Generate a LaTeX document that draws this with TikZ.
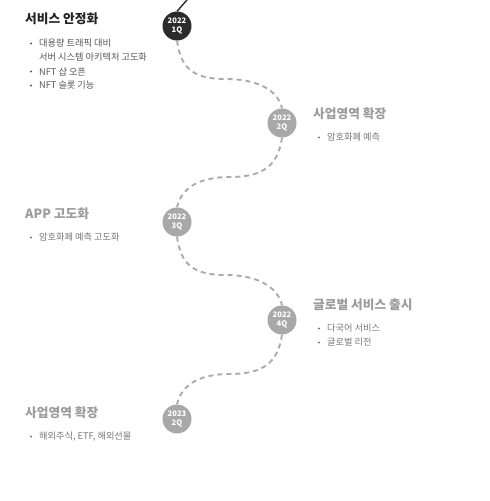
\documentclass[tikz,border=0pt]{standalone}
\usepackage{fontspec}
\setmainfont{Noto Sans CJK KR}
\usepackage{xcolor}
\usetikzlibrary{positioning}

\definecolor{darkdot}{HTML}{2B2B2B}
\definecolor{graydot}{HTML}{A8A8A8}
\definecolor{pathgray}{HTML}{ABABAB}
\definecolor{headdark}{HTML}{222222}
\definecolor{headgray}{HTML}{9C9C9C}
\definecolor{textdark}{HTML}{555555}
\definecolor{textgray}{HTML}{777777}

\begin{document}
\begin{tikzpicture}[
    x=1pt, y=-1pt,
    milestone/.style={circle, fill=#1, minimum size=29pt, inner sep=0pt, align=center, text=white, font=\fontsize{7.6}{8.4}\selectfont\bfseries},
    heading/.style={anchor=west, inner sep=0pt, text=#1, font=\fontsize{12.7}{14}\selectfont\bfseries},
    entry/.style={anchor=west, inner sep=0pt, text=#1, font=\fontsize{9.2}{10}\selectfont},
    bullet/.style={circle, fill=#1, inner sep=0pt, minimum size=2.2pt},
    route/.style={dash pattern=on 5pt off 4pt, line width=1.9pt, pathgray},
]
\useasboundingbox (0,0) rectangle (490,501);

% milestones
\node[milestone=darkdot] (q1) at (177, 26) {2022\\1Q};
\node[milestone=graydot] (q2) at (282, 123) {2022\\2Q};
\node[milestone=graydot] (q3) at (177, 222) {2022\\3Q};
\node[milestone=graydot] (q4) at (282, 320) {2022\\4Q};
\node[milestone=graydot] (q5) at (177, 419) {2023\\2Q};

% path
\coordinate (start) at (187, 0);
\draw[line width=1.4pt, darkdot] (q1.north) .. controls (182,6) .. (start);
\draw[route] (q1.south) .. controls (181,70) and (195,79) .. (226,79) .. controls (257,79) and (278,90) .. (q2.north);
\draw[route] (q2.south) .. controls (278,165) and (264,177) .. (230,177) .. controls (196,177) and (181,190) .. (q3.north);
\draw[route] (q3.south) .. controls (181,266) and (195,275) .. (226,275) .. controls (257,275) and (278,287) .. (q4.north);
\draw[route] (q4.south) .. controls (278,362) and (264,374) .. (230,374) .. controls (196,374) and (181,387) .. (q5.north);

% 2022 1Q
\node[heading=headdark] (h1) at (25, 18.5) {서비스 안정화};
\node[entry=textdark] (t1a) at (39, 43.5) {대용량 트래픽 대비};
\node[entry=textdark] (t1b) at (39, 57.5) {서버 시스템 아키텍처 고도화};
\node[entry=textdark] (t1c) at (39, 71.5) {NFT 샵 오픈};
\node[entry=textdark] (t1d) at (39, 85.5) {NFT 슬롯 기능};
\node[bullet=textdark] at (31, 43.5) {};
\node[bullet=textdark] at (31, 71.5) {};
\node[bullet=textdark] at (31, 85.5) {};

% 2022 2Q
\node[heading=headgray] (h2) at (313, 113.5) {사업영역 확장};
\node[entry=textgray] (t2a) at (327, 137.5) {암호화폐 예측};
\node[bullet=textgray] at (319, 137.5) {};

% 2022 3Q
\node[heading=headgray] (h3) at (25, 213.5) {APP 고도화};
\node[entry=textgray] (t3a) at (39, 237.5) {암호화폐 예측 고도화};
\node[bullet=textgray] at (31, 237.5) {};

% 2022 4Q
\node[heading=headgray] (h4) at (313, 304.5) {글로벌 서비스 출시};
\node[entry=textgray] (t4a) at (327, 328.5) {다국어 서비스};
\node[entry=textgray] (t4b) at (327, 342.5) {글로벌 리전};
\node[bullet=textgray] at (319, 328.5) {};
\node[bullet=textgray] at (319, 342.5) {};

% 2023 2Q
\node[heading=headgray] (h5) at (25, 412.5) {사업영역 확장};
\node[entry=textgray] (t5a) at (39, 436.5) {해외주식, ETF, 해외선물};
\node[bullet=textgray] at (31, 436.5) {};

\end{tikzpicture}
\end{document}
